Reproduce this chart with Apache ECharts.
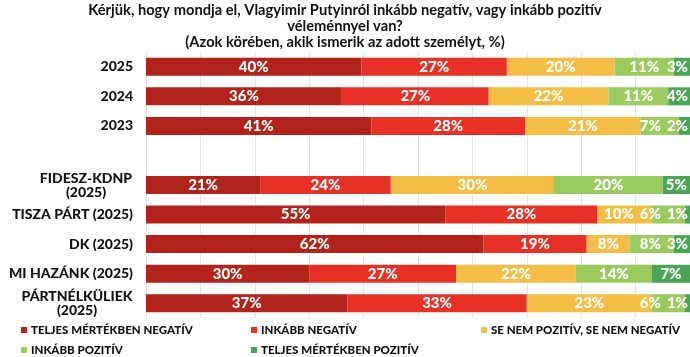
<!DOCTYPE html>
<html>
<head>
<meta charset="utf-8">
<script src="https://cdn.jsdelivr.net/npm/echarts@6/dist/echarts.min.js"></script>
<style>
  html, body { margin: 0; padding: 0; background: #ffffff; }
  #chart { width: 690px; height: 357px; }
</style>
</head>
<body>
<div id="chart"></div>
<script>
// ---- data ----
var titleText = 'Kérjük, hogy mondja el, Vlagyimir Putyinról inkább negatív, vagy inkább pozitív\nvéleménnyel van?\n(Azok körében, akik ismerik az adott személyt, %)';
var categories = ['2025', '2024', '2023', '', 'FIDESZ-KDNP\n(2025)', 'TISZA PÁRT (2025)', 'DK (2025)', 'MI HAZÁNK (2025)', 'PÁRTNÉLKÜLIEK\n(2025)'];
var seriesNames = ['TELJES MÉRTÉKBEN NEGATÍV', 'INKÁBB NEGATÍV', 'SE NEM POZITÍV, SE NEM NEGATÍV', 'INKÁBB POZITÍV', 'TELJES MÉRTÉKBEN POZITÍV'];
var teljesNegativ = [40, 36, 41, null, 21, 55, 62, 30, 37];
var inkabbNegativ = [27, 27, 28, null, 24, 28, 19, 27, 33];
var seNem         = [20, 22, 21, null, 30, 10, 8, 22, 23];
var inkabbPozitiv = [11, 11, 7, null, 20, 6, 8, 14, 6];
var teljesPozitiv = [3, 4, 2, null, 5, 1, 3, 7, 1];
var colors = ['#B1231B', '#E83126', '#F4BD45', '#9BCB5F', '#4CA557'];

var raw = [teljesNegativ, inkabbNegativ, seNem, inkabbPozitiv, teljesPozitiv];

// 100% stacked: each row is scaled to its own total
var rowSums = categories.map(function (c, i) {
  var s = 0;
  raw.forEach(function (arr) { if (arr[i] != null) s += arr[i]; });
  return s;
});

var FONT = 'Lato';
var LABEL_FONT = '900 15px ' + FONT;
var ctx = document.createElement('canvas').getContext('2d');

function textW(t, font) { ctx.font = font; return ctx.measureText(t).width; }

var chart = echarts.init(document.getElementById('chart'), null, { renderer: 'canvas' });

// keep small end labels inside the plot and apart from each other
function rowLabelCenters(row) {
  var cum = 0, segs = [];
  raw.forEach(function (arr, si) {
    var v = arr[row];
    if (v == null) { segs.push(null); return; }
    var a = cum, b = cum + v / rowSums[row] * 100;
    cum = b;
    var pa = chart.convertToPixel({ gridIndex: 0 }, [a, row])[0];
    var pb = chart.convertToPixel({ gridIndex: 0 }, [b, row])[0];
    segs.push({ c: (pa + pb) / 2, w: textW(v + '%', LABEL_FONT) });
  });
  var limit = 688, out = [];
  for (var i = segs.length - 1; i >= 0; i--) {
    var s = segs[i];
    if (!s) { out[i] = null; continue; }
    var xc = Math.min(s.c, limit - s.w / 2);
    out[i] = xc;
    limit = xc - s.w / 2 - 6;
  }
  return out;
}

var series = raw.map(function (arr, si) {
  return {
    name: seriesNames[si],
    type: 'bar',
    stack: 'total',
    barWidth: 18,
    itemStyle: { color: colors[si] },
    label: {
      show: true,
      position: 'inside',
      color: '#ffffff',
      fontFamily: FONT,
      fontWeight: 900,
      fontSize: 15,
      formatter: function (p) {
        var v = raw[si][p.dataIndex];
        return v == null ? '' : v + '%';
      }
    },
    labelLayout: function (params) {
      var xs = rowLabelCenters(params.dataIndex);
      var x = xs[params.seriesIndex];
      if (x == null) return {};
      return {
        x: x,
        y: params.labelRect.y + params.labelRect.height / 2,
        align: 'center',
        verticalAlign: 'middle'
      };
    },
    data: arr.map(function (v, i) { return v == null ? '-' : v / rowSums[i] * 100; })
  };
});

var legendLeft = [21, 251, 481, 21, 251];
var legendTop = [324, 324, 324, 344, 344];
var legends = seriesNames.map(function (n, i) {
  return {
    data: [n],
    left: legendLeft[i],
    top: legendTop[i],
    padding: 0,
    itemWidth: 6,
    itemHeight: 6,
    icon: 'rect',
    selectedMode: false,
    textStyle: { fontFamily: FONT, fontWeight: 900, fontSize: 11.5, color: '#111', padding: [0, 0, 0, -1] }
  };
});

var yFont = '900 14px ' + FONT;
var fidW = Math.ceil(textW('FIDESZ-KDNP', yFont)) + 1;
var parW = Math.ceil(textW('PÁRTNÉLKÜLIEK', yFont)) + 1;

var option = {
  backgroundColor: '#ffffff',
  animation: false,
  textStyle: { fontFamily: FONT },
  title: {
    text: titleText,
    left: 'center',
    top: 2,
    padding: 0,
    textStyle: { fontFamily: FONT, fontWeight: 'bold', fontSize: 14.7, lineHeight: 16, color: '#111' }
  },
  legend: legends,
  grid: { left: 146, right: 0, top: 52, bottom: 39, containLabel: false },
  xAxis: {
    type: 'value',
    min: 0,
    max: 100,
    interval: 10,
    axisLabel: { show: false },
    axisLine: { show: false },
    axisTick: { show: false },
    splitLine: { show: true, lineStyle: { color: '#e3e3e3', width: 1 } }
  },
  yAxis: {
    type: 'category',
    inverse: true,
    data: categories,
    axisLine: { show: false },
    axisTick: { show: false },
    axisLabel: {
      margin: 13,
      color: '#111',
      fontFamily: FONT,
      fontWeight: 900,
      fontSize: 14,
      lineHeight: 14,
      formatter: function (v) {
        if (v.indexOf('\n') < 0) return v;
        var lines = v.split('\n');
        var key = lines[0] === 'FIDESZ-KDNP' ? 'f' : 'p';
        return lines.map(function (l) { return '{' + key + '|' + l + '}'; }).join('\n');
      },
      rich: {
        f: { width: fidW, align: 'center', fontFamily: FONT, fontWeight: 900, fontSize: 14, lineHeight: 14, color: '#111' },
        p: { width: parW, align: 'center', fontFamily: FONT, fontWeight: 900, fontSize: 14, lineHeight: 14, color: '#111' }
      }
    }
  },
  series: series
};

chart.setOption(option);
</script>
</body>
</html>
